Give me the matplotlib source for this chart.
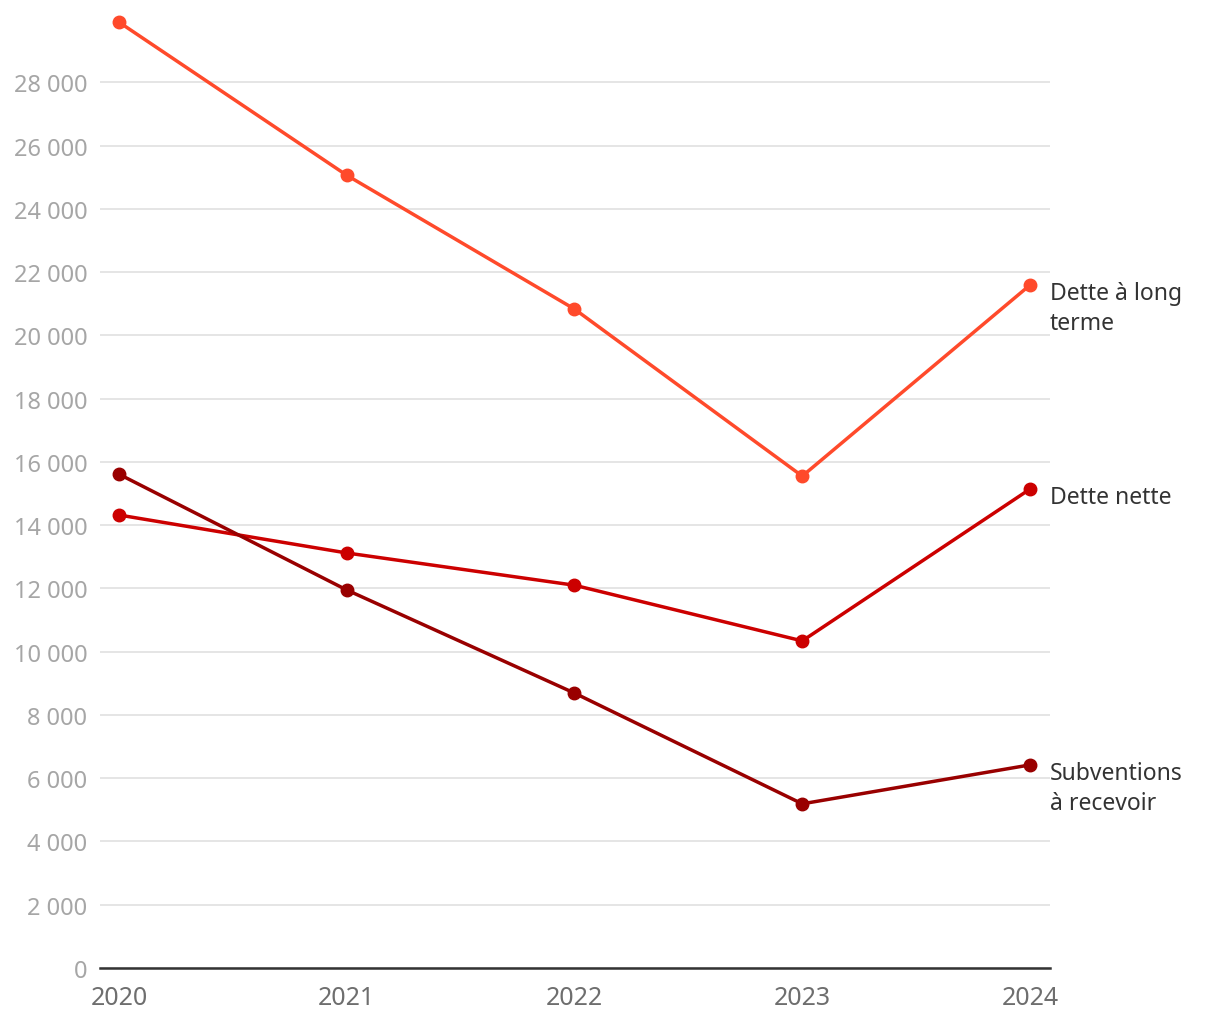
import matplotlib.pyplot as plt
import matplotlib.ticker as mticker

plt.rcParams['font.family'] = ['Noto Sans', 'DejaVu Sans']

years = [2020, 2021, 2022, 2023, 2024]
dette_long_terme = [29900, 25060, 20830, 15550, 21590]
dette_nette = [14320, 13120, 12100, 10340, 15140]
subventions = [15610, 11950, 8690, 5190, 6420]

series = [
    ("Dette à long\nterme", dette_long_terme, "#ff4a2b"),
    ("Dette nette", dette_nette, "#cc0000"),
    ("Subventions\nà recevoir", subventions, "#990000"),
]

fig = plt.figure(figsize=(12.2, 10.2), dpi=100)
ax = fig.add_axes([100/1220, 51/1020, 950/1220, 949/1020])

for label, vals, col in series:
    ax.plot(years, vals, color=col, lw=2.5, marker='o', ms=9, clip_on=False, zorder=3)
    ax.annotate(label, xy=(years[-1], vals[-1]), xytext=(20, 4), textcoords='offset pixels',
                va='top', ha='left', fontsize=16.5, color='#333333', linespacing=1.35,
                annotation_clip=False)

ax.set_xlim(2019.9166, 2024.0878)
ax.set_ylim(0, 30000)
ax.set_yticks(range(0, 30000, 2000))
ax.yaxis.set_major_formatter(mticker.FuncFormatter(lambda v, p: f"{int(v):,}".replace(",", " ")))
ax.set_xticks(years)

ax.grid(axis='y', color='#e3e3e3', lw=1.3)
ax.set_axisbelow(True)
for s in ['top', 'right', 'left']:
    ax.spines[s].set_visible(False)
ax.spines['bottom'].set_color('#333333')
ax.spines['bottom'].set_linewidth(1.8)
ax.spines['bottom'].set_zorder(4)

ax.tick_params(axis='y', length=0, pad=9, labelsize=17, labelcolor='#a6a6a6')
ax.tick_params(axis='x', length=0, pad=12, labelsize=18, labelcolor='#6e6e6e')

fig.savefig('out.png', dpi=100, facecolor='white')
